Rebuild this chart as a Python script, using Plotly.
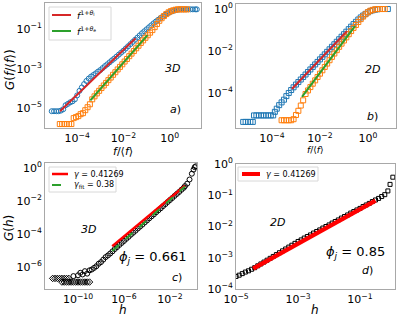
import plotly.graph_objects as go

# ---------------- data (log10 values) ----------------
# panel a (3D)
a_blue_lx = [-5.1,-5.0,-4.9,-4.8,-4.7,-4.6,-4.5,-4.4,-4.3,-4.2,-4.1,-4.0,-3.9,-3.8,-3.7,-3.6,-3.5,-3.4,-3.3,-3.2,
             -3.1,-3.0,-2.9,-2.8,-2.7,-2.6,-2.5,-2.4,-2.3,-2.2,-2.1,-2.0,-1.9,-1.8,-1.7,-1.6,-1.5,-1.4,-1.3,-1.2,
             -1.1,-1.0,-0.9,-0.8,-0.7,-0.6,-0.5,-0.4,-0.3,-0.2,-0.1,0.0,0.1,0.2,0.3,0.4,0.5,0.6,0.7,0.8,0.9,1.0,1.1,1.17]
a_blue_ly = [-5.15,-5.15,-5.15,-5.15,-5.12,-5.05,-4.85,-4.78,-4.7,-4.65,-4.55,-4.35,-4.12,-3.95,-3.78,-3.62,-3.5,-3.4,-3.32,-3.24,
             -3.15,-3.07,-2.97,-2.87,-2.78,-2.68,-2.58,-2.49,-2.39,-2.29,-2.19,-2.09,-1.98,-1.87,-1.76,-1.65,-1.54,-1.43,-1.32,-1.21,
             -1.11,-1.01,-0.91,-0.81,-0.71,-0.62,-0.53,-0.44,-0.36,-0.28,-0.21,-0.15,-0.1,-0.06,-0.03,-0.01,0,0,0,0,0,0,0,0]
a_orng_lx = [-4.75,-4.65,-4.55,-4.45,-4.35,-4.25,-4.15,-4.05,-3.95,-3.85,-3.75,-3.65,-3.55,-3.45,-3.35,-3.25,-3.15,-3.05,
             -2.95,-2.85,-2.75,-2.65,-2.55,-2.45,-2.35,-2.25,-2.15,-2.05,-1.95,-1.85,-1.75,-1.65,-1.55,-1.45,-1.35,-1.25,
             -1.15,-1.05,-0.95,-0.85,-0.75,-0.65,-0.55,-0.45,-0.35,-0.25,-0.15,-0.05,0.05,0.15,0.25,0.35,0.45,0.55,0.65,0.75]
a_orng_ly = [-5.8,-5.8,-5.8,-5.8,-5.8,-5.8,-5.5,-5.45,-5.4,-5.3,-5.25,-5.1,-4.95,-4.8,-4.55,-4.4,-4.25,-4.12,
             -3.98,-3.85,-3.72,-3.58,-3.45,-3.31,-3.18,-3.04,-2.91,-2.78,-2.64,-2.51,-2.37,-2.24,-2.11,-1.97,-1.84,-1.7,
             -1.57,-1.44,-1.31,-1.18,-1.05,-0.9,-0.74,-0.58,-0.45,-0.34,-0.24,-0.15,-0.09,-0.05,-0.02,0,0,0,0,0]
a_red_lx, a_red_ly = [-4.74, -1.48], [-5.15, -1.46]
a_grn_lx, a_grn_ly = [-3.43, -0.96], [-4.6, -1.3]

# panel b (2D)
b_blue_lx = [-5.2,-5.1,-5.0,-4.9,-4.8,-4.75,-4.65,-4.55,-4.45,-4.35,-4.25,-4.15,-4.05,-3.95,-3.88,-3.8,-3.7,-3.6,-3.5,-3.4,
             -3.3,-3.2,-3.1,-3.0,-2.9,-2.8,-2.7,-2.6,-2.5,-2.4,-2.3,-2.2,-2.1,-2.0,-1.9,-1.8,-1.7,-1.6,-1.5,-1.4,
             -1.3,-1.2,-1.1,-1.0,-0.9,-0.8,-0.7,-0.6,-0.5,-0.4,-0.3,-0.2,-0.1,0.0,0.1,0.2,0.3,0.4,0.83]
b_blue_ly = [-5.38,-5.38,-5.38,-5.38,-5.38,-5.07,-5.07,-5.07,-5.07,-5.07,-5.07,-5.07,-5.07,-5.07,-4.9,-4.75,-4.58,-4.45,-4.32,-4.15,
             -4.0,-3.86,-3.73,-3.6,-3.48,-3.36,-3.24,-3.12,-3.0,-2.88,-2.76,-2.64,-2.52,-2.4,-2.28,-2.16,-2.04,-1.92,-1.8,-1.68,
             -1.56,-1.44,-1.32,-1.2,-1.08,-0.96,-0.84,-0.72,-0.61,-0.5,-0.4,-0.31,-0.23,-0.16,-0.1,-0.06,-0.03,-0.01,0]
b_orng_lx = [-3.6,-3.5,-3.4,-3.3,-3.2,-3.1,-3.0,-2.9,-2.8,-2.7,-2.6,-2.5,-2.4,-2.3,-2.2,-2.1,-2.0,-1.9,-1.8,-1.7,
             -1.6,-1.5,-1.4,-1.3,-1.2,-1.1,-1.0,-0.9,-0.8,-0.7,-0.6,-0.5,-0.4,-0.3,-0.2,-0.1,0.0,0.1,0.2,0.3,0.4,0.5,0.6,0.7]
b_orng_ly = [-5.3,-5.3,-5.3,-5.3,-5.3,-5.25,-5.05,-4.85,-4.6,-4.35,-4.05,-3.88,-3.72,-3.56,-3.4,-3.24,-3.08,-2.92,-2.76,-2.6,
             -2.44,-2.28,-2.12,-1.96,-1.8,-1.65,-1.5,-1.35,-1.2,-1.05,-0.9,-0.76,-0.62,-0.48,-0.36,-0.25,-0.15,-0.08,-0.04,-0.01,0,0,0,0]
b_red_lx, b_red_ly = [-3.17, -0.875], [-3.81, -1.05]
b_grn_lx, b_grn_ly = [-2.75, -0.54], [-4.19, -0.81]

# panel c (3D, G(h))
c_dia_lx = [-12.2,-12.0,-11.8,-11.6,-11.4,-11.2,-11.0,-10.8,
            -11.4,-11.2,-11.0,-10.8,-10.6,-10.4,-10.2,-10.0,-9.8,-9.6,-9.4,-9.2,-9.0]
c_dia_ly = [-6.69,-6.69,-6.69,-6.69,-6.69,-6.69,-6.69,-6.69,
            -6.91,-6.91,-6.91,-6.91,-6.91,-6.91,-6.91,-6.91,-6.91,-6.91,-6.91,-6.91,-6.91]
c_cir_lx = [-10.4,-10.0,-9.8,-9.6,-9.4,-9.2,-9.0,-8.8,-8.6,-8.4,-8.2,-8.0,-7.8,-7.6,-7.4,-7.2,-7.0,
            -6.8,-6.6,-6.4,-6.2,-6.0,-5.8,-5.6,-5.4,-5.2,-5.0,-4.8,-4.6,-4.4,-4.2,-4.0,-3.8,-3.6,-3.4,-3.2,
            -3.0,-2.8,-2.6,-2.4,-2.2,-2.0,-1.8,-1.6,-1.4,-1.2,-1.0,-0.8,-0.7,-0.5,-0.3,-0.1,0.05,0.15,0.25]
c_cir_ly = [-6.55,-6.5,-6.35,-6.45,-6.25,-6.4,-6.2,-6.15,-6.05,-5.95,-5.8,-5.7,-5.55,-5.4,-5.3,-5.18,-5.05,
            -4.91,-4.79,-4.66,-4.54,-4.42,-4.29,-4.17,-4.04,-3.92,-3.8,-3.67,-3.55,-3.43,-3.3,-3.18,-3.05,-2.93,-2.81,-2.68,
            -2.56,-2.44,-2.31,-2.19,-2.06,-1.94,-1.82,-1.69,-1.57,-1.45,-1.32,-1.2,-1.1,-0.95,-0.7,-0.35,-0.1,0.05,0.1]
c_red_lx, c_red_ly = [-7.02, -0.7], [-4.74, -1.07]
c_grn_lx, c_grn_ly = [-7.02, -0.7], [-5.03, -1.13]

# panel d (2D, G(h))
d_sq_lx = [-5.0,-4.9,-4.8,-4.7,-4.6,-4.5,-4.4,-4.3,-4.2,-4.1,-4.0,-3.9,-3.8,-3.7,-3.6,-3.5,-3.4,-3.3,-3.2,-3.1,
           -3.0,-2.9,-2.8,-2.7,-2.6,-2.5,-2.4,-2.3,-2.2,-2.1,-2.0,-1.9,-1.8,-1.7,-1.6,-1.5,-1.4,-1.3,-1.2,-1.1,
           -1.0,-0.9,-0.8,-0.7,-0.6,-0.5,-0.4,-0.3,-0.2,-0.1,-0.03,0.06]
d_sq_ly = [-3.6,-3.56,-3.51,-3.46,-3.42,-3.37,-3.32,-3.26,-3.2,-3.14,-3.08,-3.02,-2.96,-2.9,-2.84,-2.78,-2.72,-2.66,-2.6,-2.54,
           -2.48,-2.43,-2.37,-2.32,-2.27,-2.21,-2.16,-2.11,-2.05,-2.0,-1.95,-1.89,-1.84,-1.79,-1.73,-1.68,-1.63,-1.57,-1.52,-1.47,
           -1.42,-1.36,-1.31,-1.26,-1.2,-1.15,-1.1,-1.04,-0.98,-0.86,-0.65,-0.42]
d_red_lx, d_red_ly = [-4.45, -0.5], [-3.35, -1.17]

# legend labels
leg_a = ["<i>f</i><sup>1+<i>θ</i><sub>l</sub></sup>", "<i>f</i><sup>1+<i>θ</i><sub>e</sub></sup>"]
leg_c = ["<i>γ</i> = 0.41269", "<i>γ</i><sub>fit</sub> = 0.38"]
leg_d = ["<i>γ</i> = 0.41269"]

# tick labels
def sup(e):
    return "10<sup>%s</sup>" % (("\u2212%d" % -e) if e < 0 else "%d" % e)

a_xt, a_yt = [-4, -2, 0], [-5, -3, -1]
b_xt, b_yt = [-4, -2, 0], [-4, -2, 0]
c_xt, c_yt = [-10, -6, -2], [-6, -4, -2, 0]
d_xt, d_yt = [-5, -3, -1], [-4, -3, -2, -1, 0]

BLUE, ORANGE = "#1f77b4", "#ff7f0e"
RED_T, GREEN_T = "#d62728", "#2ca02c"


def P(v):
    return [10 ** t for t in v]


fig = go.Figure()


def mk(sym, size, col):
    return dict(symbol=sym, size=size, color=col, line=dict(width=1))


# panel a
fig.add_trace(go.Scatter(x=P(a_blue_lx), y=P(a_blue_ly), mode="markers", xaxis="x", yaxis="y", marker=mk("circle-open", 5, BLUE)))
fig.add_trace(go.Scatter(x=P(a_orng_lx), y=P(a_orng_ly), mode="markers", xaxis="x", yaxis="y", marker=mk("square-open", 5, ORANGE)))
fig.add_trace(go.Scatter(x=P(a_red_lx), y=P(a_red_ly), mode="lines", xaxis="x", yaxis="y", line=dict(color=RED_T, width=2)))
fig.add_trace(go.Scatter(x=P(a_grn_lx), y=P(a_grn_ly), mode="lines", xaxis="x", yaxis="y", line=dict(color=GREEN_T, width=2)))
# panel b
fig.add_trace(go.Scatter(x=P(b_blue_lx), y=P(b_blue_ly), mode="markers", xaxis="x2", yaxis="y2", marker=mk("square-open", 5, BLUE)))
fig.add_trace(go.Scatter(x=P(b_orng_lx), y=P(b_orng_ly), mode="markers", xaxis="x2", yaxis="y2", marker=mk("square-open", 5, ORANGE)))
fig.add_trace(go.Scatter(x=P(b_red_lx), y=P(b_red_ly), mode="lines", xaxis="x2", yaxis="y2", line=dict(color=RED_T, width=2)))
fig.add_trace(go.Scatter(x=P(b_grn_lx), y=P(b_grn_ly), mode="lines", xaxis="x2", yaxis="y2", line=dict(color=GREEN_T, width=2)))
# panel c
fig.add_trace(go.Scatter(x=P(c_dia_lx), y=P(c_dia_ly), mode="markers", xaxis="x3", yaxis="y3", marker=mk("diamond-open", 5, "black")))
fig.add_trace(go.Scatter(x=P(c_cir_lx), y=P(c_cir_ly), mode="markers", xaxis="x3", yaxis="y3", marker=mk("circle-open", 5, "black")))
fig.add_trace(go.Scatter(x=P(c_red_lx), y=P(c_red_ly), mode="lines", xaxis="x3", yaxis="y3", line=dict(color="red", width=2.5)))
fig.add_trace(go.Scatter(x=P(c_grn_lx), y=P(c_grn_ly), mode="lines", xaxis="x3", yaxis="y3",
                         line=dict(color=GREEN_T, width=2, dash="dash")))
# panel d
fig.add_trace(go.Scatter(x=P(d_sq_lx), y=P(d_sq_ly), mode="markers", xaxis="x4", yaxis="y4", marker=mk("square-open", 4, "black")))
fig.add_trace(go.Scatter(x=P(d_red_lx), y=P(d_red_ly), mode="lines", xaxis="x4", yaxis="y4", line=dict(color="red", width=4.5)))

W, H = 399, 319


def dx(a, b):
    return [a / W, b / W]


def dy(top, bot):
    return [1 - bot / H, 1 - top / H]


FRAME = "#a8a8a8"
TF = dict(family="DejaVu Sans", size=11, color="black")


def axis(dom, rng, tv, anchor, **kw):
    d = dict(type="log", domain=dom, range=rng, tickmode="array", tickvals=[10 ** t for t in tv],
             ticktext=[sup(t) for t in tv], showgrid=False, zeroline=False, showline=True, linecolor=FRAME,
             linewidth=1, mirror=True, ticks="", tickfont=TF, anchor=anchor, automargin=False)
    d.update(kw)
    return d


fig.update_layout(
    width=W, height=H, margin=dict(l=0, r=0, t=0, b=0, autoexpand=False),
    paper_bgcolor="white", plot_bgcolor="white", showlegend=False,
    font=dict(family="DejaVu Sans", color="black"),
    xaxis=axis(dx(45, 201), [-5.39, 1.35], a_xt, "y"),
    yaxis=axis(dy(3, 128), [-6.0, 0.32], a_yt, "x"),
    xaxis2=axis(dx(236, 396), [-5.5, 1.17], b_xt, "y2"),
    yaxis2=axis(dy(4, 128), [-5.67, 0.24], b_yt, "x2"),
    xaxis3=axis(dx(45, 197), [-12.87, 0.35], c_xt, "y3"),
    yaxis3=axis(dy(163, 289), [-7.33, 0.3], c_yt, "x3"),
    xaxis4=axis(dx(236, 395), [-5.003, 0.13], d_xt, "y4"),
    yaxis4=axis(dy(164, 289), [-4.003, 0.003], d_yt, "x4"),
)


def px(x):
    return x / W


def py(y):
    return 1 - y / H


def note(text, x, y, ref, size=11, **kw):
    d = dict(text=text, x=x, y=y, xref=ref[0], yref=ref[1], showarrow=False, font=dict(size=size, color="black"),
             xanchor="center", yanchor="middle")
    d.update(kw)
    fig.add_annotation(**d)


# hand-drawn legends (box, line sample, label) in pixel positions
def legend_box(x0, y0, x1, y1):
    fig.add_shape(type="rect", xref="paper", yref="paper", x0=px(x0), x1=px(x1), y0=py(y1), y1=py(y0),
                  line=dict(color="#d8d8d8", width=1), fillcolor="rgba(255,255,255,0.85)", layer="above")


def legend_item(x0, x1, y, color, width, dash, label, size):
    fig.add_shape(type="line", xref="paper", yref="paper", x0=px(x0), x1=px(x1), y0=py(y), y1=py(y),
                  line=dict(color=color, width=width, dash=dash), layer="above")
    note(label, px(x1 + 4), py(y), ("paper", "paper"), size=size, xanchor="left")


legend_box(49, 7, 111, 40)
legend_item(52, 71, 15, RED_T, 2, "solid", leg_a[0], 9)
legend_item(52, 71, 31, GREEN_T, 2, "solid", leg_a[1], 9)

legend_box(49, 167, 116, 192)
legend_item(52, 68, 174, "red", 2.5, "solid", leg_c[0], 8)
legend_item(52, 68, 185, GREEN_T, 2, "dash", leg_c[1], 8)

legend_box(238, 167, 318, 181)
legend_item(242, 260, 174, "red", 4, "solid", leg_d[0], 8)

note("<i>3D</i>", 0.82, 0.48, ("x domain", "y domain"))
note("<i>a</i>)", 0.835, 0.15, ("x domain", "y domain"))
note("<i>2D</i>", 0.855, 0.47, ("x2 domain", "y2 domain"))
note("<i>b</i>)", 0.855, 0.09, ("x2 domain", "y2 domain"))
note("<i>3D</i>", 0.283, 0.47, ("x3 domain", "y3 domain"))
note("<i>ϕ<sub>j</sub></i> = 0.661", 0.71, 0.25, ("x3 domain", "y3 domain"), size=13)
note("<i>c</i>)", 0.87, 0.09, ("x3 domain", "y3 domain"))
note("<i>2D</i>", 0.26, 0.53, ("x4 domain", "y4 domain"))
note("<i>ϕ<sub>j</sub></i> = 0.85", 0.75, 0.29, ("x4 domain", "y4 domain"), size=13)
note("<i>d</i>)", 0.83, 0.15, ("x4 domain", "y4 domain"))

# axis titles
note("<i>G</i>(<i>f</i>/⟨<i>f</i>⟩)", px(10), py(70), ("paper", "paper"), size=12, textangle=-90)
note("<i>f</i>/⟨<i>f</i>⟩", px(123), py(151), ("paper", "paper"), size=11)
note("<i>f</i>/⟨<i>f</i>⟩", px(315), py(150), ("paper", "paper"), size=9)
note("<i>G</i>(<i>h</i>)", px(9), py(228), ("paper", "paper"), size=12, textangle=-90)
note("<i>h</i>", px(123), py(310), ("paper", "paper"), size=12)
note("<i>h</i>", px(315), py(310), ("paper", "paper"), size=12)

fig.write_html("out.html", config={"displayModeBar": False, "staticPlot": True},
               post_script="document.body.style.margin='0px';document.body.style.overflow='hidden';")
